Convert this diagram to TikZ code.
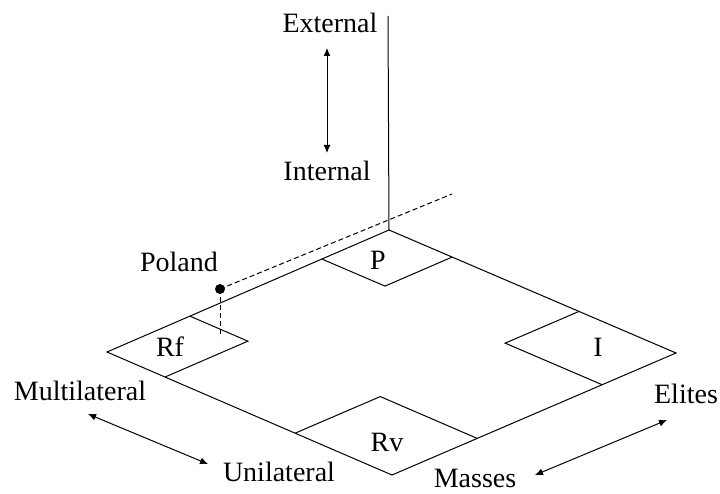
\documentclass[tikz,border=0pt]{standalone}
\usepackage{fontspec}
\setmainfont{Liberation Serif}
\usetikzlibrary{calc,arrows.meta}
\begin{document}
\begin{tikzpicture}[x=1pt,y=-1pt,
  edge/.style={line width=1pt,line join=miter},
  dashline/.style={line width=1pt,dash pattern=on 5pt off 3pt},
  dbl/.style={line width=1pt,{Latex[length=8pt,width=7pt]}-{Latex[length=8pt,width=7pt]}},
  lbl/.style={inner sep=0pt,font=\fontsize{28}{30}\selectfont}]
\useasboundingbox (0,0) rectangle (720,494);
% main rhombus corners
\coordinate (T) at (389,230);
\coordinate (L) at (107,352);
\coordinate (R) at (676,353);
\coordinate (B) at (392,475);
\coordinate (VT) at (388,16);
% P diamond
\coordinate (Pl) at ($(T)!0.238!(L)$);
\coordinate (Pr) at ($(T)!0.22!(R)$);
\coordinate (Pb) at ($(Pl)+(Pr)-(T)$);
% Rf diamond
\coordinate (Ft) at ($(L)!0.294!(T)$);
\coordinate (Fb) at ($(L)!0.2035!(B)$);
\coordinate (Fr) at ($(Ft)+(Fb)-(L)$);
% I diamond
\coordinate (It) at ($(R)!0.338!(T)$);
\coordinate (Ib) at ($(R)!0.26!(B)$);
\coordinate (Il) at ($(It)+(Ib)-(R)$);
% Rv diamond
\coordinate (Vl) at ($(B)!0.34!(L)$);
\coordinate (Vr) at ($(B)!0.30!(R)$);
\coordinate (Vt) at ($(Vl)+(Vr)-(B)$);
% Poland projection
\coordinate (D) at (220,289);
\coordinate (DE) at (452,194);
\coordinate (DF) at (220,337);
% arrow ends
\coordinate (A1) at (327,48);
\coordinate (A2) at (327,153);
\coordinate (M1) at (88,414);
\coordinate (M2) at (208,464);
\coordinate (E1) at (667,420);
\coordinate (E2) at (535,475);

\draw[edge] (T) -- (R) -- (B) -- (L) -- cycle;
\draw[edge] (VT) -- (T);
\draw[edge] (Pl) -- (Pb) -- (Pr);
\draw[edge] (Ft) -- (Fr) -- (Fb);
\draw[edge] (It) -- (Il) -- (Ib);
\draw[edge] (Vl) -- (Vt) -- (Vr);
\draw[dashline] (D) -- (DE);
\draw[dashline] (D) -- (DF);
\fill (D) circle (5pt);
\draw[dbl] (A1) -- (A2);
\draw[dbl] (M1) -- (M2);
\draw[dbl] (E1) -- (E2);

\node[lbl] (ext) at (330,23) {External};
\node[lbl] (int) at (327,171) {Internal};
\node[lbl] (pol) at (179,262) {Poland};
\node[lbl] (p) at (378,260) {P};
\node[lbl] (rf) at (170,347) {Rf};
\node[lbl] (i) at (598,347) {I};
\node[lbl] (rv) at (387,442) {Rv};
\node[lbl] (mul) at (80,391) {Multilateral};
\node[lbl] (uni) at (279,472) {Unilateral};
\node[lbl] (mas) at (475,478) {Masses};
\node[lbl] (eli) at (686,394) {Elites};
\end{tikzpicture}
\end{document}
